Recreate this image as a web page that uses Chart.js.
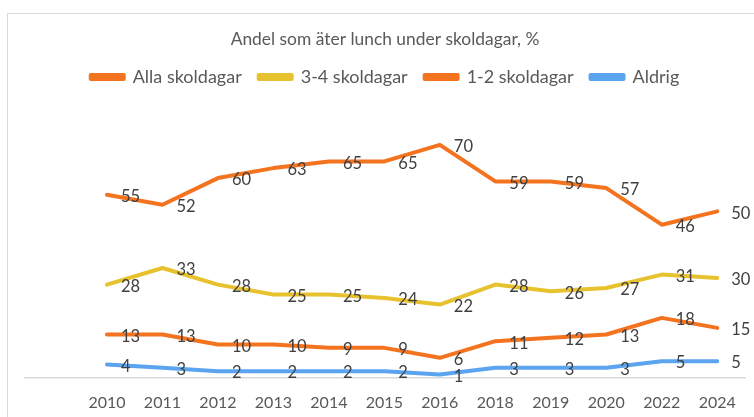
<!DOCTYPE html>
<html>
<head>
<meta charset="utf-8">
<script src="https://cdn.jsdelivr.net/npm/chart.js@4"></script>
<style>
  html, body { margin: 0; padding: 0; background: #fff; overflow: hidden; }
  #frame { position: absolute; left: 7px; top: 13px; width: 900px; height: 600px;
           border: 1.5px solid #d9d9d9; box-sizing: border-box; }
  #wrap { position: absolute; left: 0; top: 0; width: 754px; height: 417px; }
</style>
</head>
<body>
<div id="frame"></div>
<div id="wrap"><canvas id="chart" width="754" height="417"></canvas></div>
<script>
const years = ["2010", "2011", "2012", "2013", "2014", "2015", "2016", "2018", "2019", "2020", "2022", "2024"];
const alla = [55, 52, 60, 63, 65, 65, 70, 59, 59, 57, 46, 50];
const tre4 = [28, 33, 28, 25, 25, 24, 22, 28, 26, 27, 31, 30];
const ett2 = [13, 13, 10, 10, 9, 9, 6, 11, 12, 13, 18, 15];
const aldrig = [4, 3, 2, 2, 2, 2, 1, 3, 3, 3, 5, 5];

Chart.defaults.font.family = "Lato";

const pts = arr => arr.map((v, i) => ({ x: i, y: v }));

function line(label, data, color) {
  return {
    label, data: pts(data),
    borderColor: color, backgroundColor: color,
    borderWidth: 4, pointRadius: 0, tension: 0,
    borderCapStyle: "round", borderJoinStyle: "round"
  };
}

/* labels to the right of each point */
const valueLabels = {
  id: "valueLabels",
  afterDatasetsDraw(chart) {
    const ctx = chart.ctx;
    ctx.save();
    ctx.font = "16.5px Lato";
    ctx.fillStyle = "#404040";
    ctx.textBaseline = "middle";
    chart.data.datasets.forEach((ds, di) => {
      chart.getDatasetMeta(di).data.forEach((p, i) => {
        ctx.fillText(String(ds.data[i].y), p.x + 14, p.y + 2);
      });
    });
    ctx.restore();
  }
};

new Chart(document.getElementById("chart"), {
  type: "line",
  data: {
    datasets: [
      line("Alla skoldagar", alla, "#f4731f"),
      line("3-4 skoldagar", tre4, "#e8c22e"),
      line("1-2 skoldagar", ett2, "#f4731f"),
      line("Aldrig", aldrig, "#5ba4f0")
    ]
  },
  options: {
    responsive: false,
    animation: false,
    layout: { padding: { left: 25, right: 9, bottom: -10, top: 0 } },
    plugins: {
      title: {
        display: true,
        text: "Andel som äter lunch under skoldagar, %",
        color: "#595959",
        font: { size: 17.4, weight: "normal" },
        padding: { top: 29, bottom: 1 }
      },
      legend: {
        labels: { color: "#595959", font: { size: 18 }, boxWidth: 33, boxHeight: 4, padding: 17 }
      },
      tooltip: { enabled: false }
    },
    scales: {
      x: {
        type: "linear",
        min: -1.477,
        max: 11.5,
        afterBuildTicks: s => { s.ticks = years.map((_, i) => ({ value: i })); },
        ticks: {
          autoSkip: false, maxRotation: 0, padding: 15,
          color: "#595959", font: { size: 16 },
          callback: v => years[Math.round(v)]
        },
        grid: { display: false, drawTicks: false },
        border: { display: true, color: "#d9d9d9", width: 1.5 }
      },
      y: {
        display: false,
        min: 0,
        max: 84.7
      }
    }
  },
  plugins: [valueLabels]
});
</script>
</body>
</html>
